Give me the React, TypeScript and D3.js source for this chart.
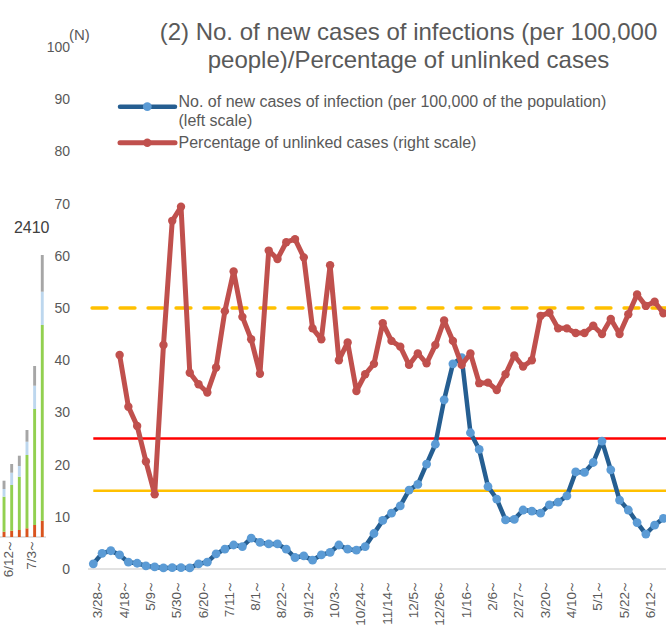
import React from "react";
import * as d3 from "d3";

const weeks = ["3/28","4/4","4/11","4/18","4/25","5/2","5/9","5/16","5/23","5/30","6/6","6/13","6/20","6/27","7/4","7/11","7/18","7/25","8/1","8/8","8/15","8/22","8/29","9/5","9/12","9/19","9/26","10/3","10/10","10/17","10/24","10/31","11/7","11/14","11/21","11/28","12/5","12/12","12/19","12/26","1/2","1/9","1/16","1/23","1/30","2/6","2/13","2/20","2/27","3/6","3/13","3/20","3/27","4/3","4/10","4/17","4/24","5/1","5/8","5/15","5/22","5/29","6/5","6/12","6/19","6/26"];

const newCases = [1.0,3.0,3.5,2.7,1.3,1.1,0.6,0.4,0.2,0.25,0.25,0.2,1.0,1.3,2.9,3.8,4.6,4.3,5.9,5.1,4.8,4.8,3.8,2.2,2.5,1.7,2.7,3.2,4.6,3.8,3.6,4.3,6.8,9.3,10.7,12.1,15.1,16.2,20.1,23.9,32.4,39.3,40.5,26.1,22.9,15.8,13.4,9.4,9.5,11.3,11.1,10.7,12.3,12.8,14.0,18.6,18.5,20.4,24.5,19.0,13.2,11.3,8.9,6.7,8.4,9.7];

const unlinked: (number | null)[] = [null,null,null,41.0,31.1,27.4,20.6,14.3,42.9,66.7,69.4,37.6,35.4,33.8,38.6,49.4,57.0,48.3,44.0,37.4,61.0,59.4,62.6,63.2,59.7,46.1,44.0,58.2,40.0,43.4,34.1,37.3,39.3,47.1,43.7,42.6,39.1,41.3,39.4,42.9,47.6,43.7,39.1,41.3,35.6,35.7,34.3,37.3,40.9,38.8,40.0,48.5,49.1,46.1,46.1,45.2,45.2,46.6,45.0,47.9,45.0,48.8,52.6,50.4,51.2,49.0];

const yTicks = [0,10,20,30,40,50,60,70,80,90,100];
const refRed = 25;
const refOrange = 15;
const refDashed = 50;

// fragment of the previous chart visible at the left edge
const sideWeeks = ["6/12","6/19","6/26","7/3","7/10","7/17"];
const sideOrange = [5.3,6.3,7,8.7,12,16.3];
const sideGreen = [35,45.7,53.3,73.3,116,195.7];
const sideLBlue = [7.7,12.3,10.7,13.3,23.3,33.3];
const sideGray = [8.3,8.7,10.3,11.7,19.7,36.7];
const sideLabel = "2410";

const FONT = "Arial, 'Liberation Sans', sans-serif";
const TXT = "#595959";

function WeekLabel({ x, y, text }: { x: number; y: number; text: string }) {
  return (
    <text transform={`translate(${x},${y}) rotate(-90)`} textAnchor="end" dominantBaseline="central" fontSize={13.5} fill={TXT}>
      {text}<tspan dx={-2}>～</tspan>
    </text>
  );
}

export default function App() {
  const W = 666, H = 631;
  const x = d3.scalePoint<string>().domain(weeks).range([93.3, 663.4]);
  const y = d3.scaleLinear().domain([0, 100]).range([569, 47]);

  const blueLine = d3.line<number>().x((_, i) => x(weeks[i])!).y(d => y(d));
  const redLine = d3.line<number | null>()
    .defined(d => d != null)
    .x((_, i) => x(weeks[i])!)
    .y(d => y(d as number));

  const sx = d3.scaleBand<string>().domain(sideWeeks).range([0.2, 46.1]).paddingInner(0.62).paddingOuter(0.31);
  const sy = d3.scaleLinear().domain([0, 300]).range([537, 237]);
  const sideSeries = [
    { vals: sideOrange, color: "#D9541E" },
    { vals: sideGreen, color: "#92D050" },
    { vals: sideLBlue, color: "#BDD7EE" },
    { vals: sideGray, color: "#A6A6A6" },
  ];

  const x0 = 88, x1 = W;

  return (
    <div style={{ position: "fixed", left: 0, top: 0, width: W, height: H, background: "#fff" }}>
      <svg width={W} height={H} style={{ display: "block", fontFamily: FONT }}>
        <rect width={W} height={H} fill="#fff" />

        {/* side fragment */}
        <line x1={0} x2={46} y1={sy(0)} y2={sy(0)} stroke="#D9D9D9" strokeWidth={1.5} />
        {sideWeeks.map((w, i) => {
          let acc = 0;
          return (
            <g key={w}>
              {sideSeries.map((s, k) => {
                const v = s.vals[i];
                const r = <rect key={k} x={sx(w)!} width={sx.bandwidth()} y={sy(acc + v)} height={sy(acc) - sy(acc + v)} fill={s.color} />;
                acc += v;
                return r;
              })}
            </g>
          );
        })}
        {[0, 3].map(i => (
          <WeekLabel key={i} x={sx(sideWeeks[i])! + sx.bandwidth() / 2 + 4.5} y={539} text={sideWeeks[i]} />
        ))}
        <text x={31.7} y={227} textAnchor="middle" dominantBaseline="central" fontSize={16} fill="#404040">{sideLabel}</text>

        {/* title */}
        <text x={408.5} y={31.5} textAnchor="middle" dominantBaseline="central" fontSize={24} fill={TXT}>(2) No. of new cases of infections (per 100,000</text>
        <text x={408.5} y={59} textAnchor="middle" dominantBaseline="central" fontSize={24} fill={TXT}>people)/Percentage of unlinked cases</text>

        {/* y axis labels */}
        {yTicks.map(t => (
          <text key={t} x={70} y={y(t)} textAnchor="end" dominantBaseline="central" fontSize={14} fill={TXT}>{t}</text>
        ))}
        <text x={69} y={34.5} dominantBaseline="central" fontSize={15} fill={TXT}>(N)</text>

        {/* baseline */}
        <line x1={x0} x2={x1} y1={y(0)} y2={y(0)} stroke="#D9D9D9" strokeWidth={1.5} />

        {/* x labels */}
        {weeks.map((w, i) => i % 3 === 0 ? (
          <WeekLabel key={w + i} x={x(w)! + 4.5} y={580} text={w} />
        ) : null)}

        {/* reference lines */}
        <line x1={93.3} x2={x1} y1={y(refRed)} y2={y(refRed)} stroke="#FF0000" strokeWidth={2.5} />
        <line x1={93.3} x2={x1} y1={y(refOrange)} y2={y(refOrange)} stroke="#FFC000" strokeWidth={2.5} />
        <line x1={92} x2={x1} y1={y(refDashed)} y2={y(refDashed)} stroke="#FFC000" strokeWidth={3.3} strokeDasharray="15 13" strokeLinecap="round" />

        {/* blue series */}
        <path d={blueLine(newCases)!} fill="none" stroke="#255E91" strokeWidth={4.5} strokeLinejoin="round" />
        {newCases.map((v, i) => (
          <circle key={i} cx={x(weeks[i])!} cy={y(v)} r={4.4} fill="#5B9BD5" />
        ))}

        {/* red series */}
        <path d={redLine(unlinked)!} fill="none" stroke="#C0504D" strokeWidth={5} strokeLinejoin="round" />
        {unlinked.map((v, i) => v == null ? null : (
          <circle key={i} cx={x(weeks[i])!} cy={y(v)} r={4.2} fill="#C0504D" />
        ))}

        {/* legend */}
        <line x1={120} x2={175} y1={106.7} y2={106.7} stroke="#255E91" strokeWidth={4.5} strokeLinecap="round" />
        <circle cx={147.3} cy={106.7} r={4.4} fill="#5B9BD5" />
        <text x={178.5} y={101.5} dominantBaseline="central" fontSize={16} fill={TXT}>No. of new cases of infection (per 100,000 of the population)</text>
        <text x={178.5} y={120} dominantBaseline="central" fontSize={16} fill={TXT}>(left scale)</text>
        <line x1={120} x2={175} y1={142.7} y2={142.7} stroke="#C0504D" strokeWidth={5} strokeLinecap="round" />
        <circle cx={147.3} cy={142.7} r={4.2} fill="#C0504D" />
        <text x={178.5} y={142.7} dominantBaseline="central" fontSize={16} fill={TXT}>Percentage of unlinked cases (right scale)</text>
      </svg>
    </div>
  );
}
